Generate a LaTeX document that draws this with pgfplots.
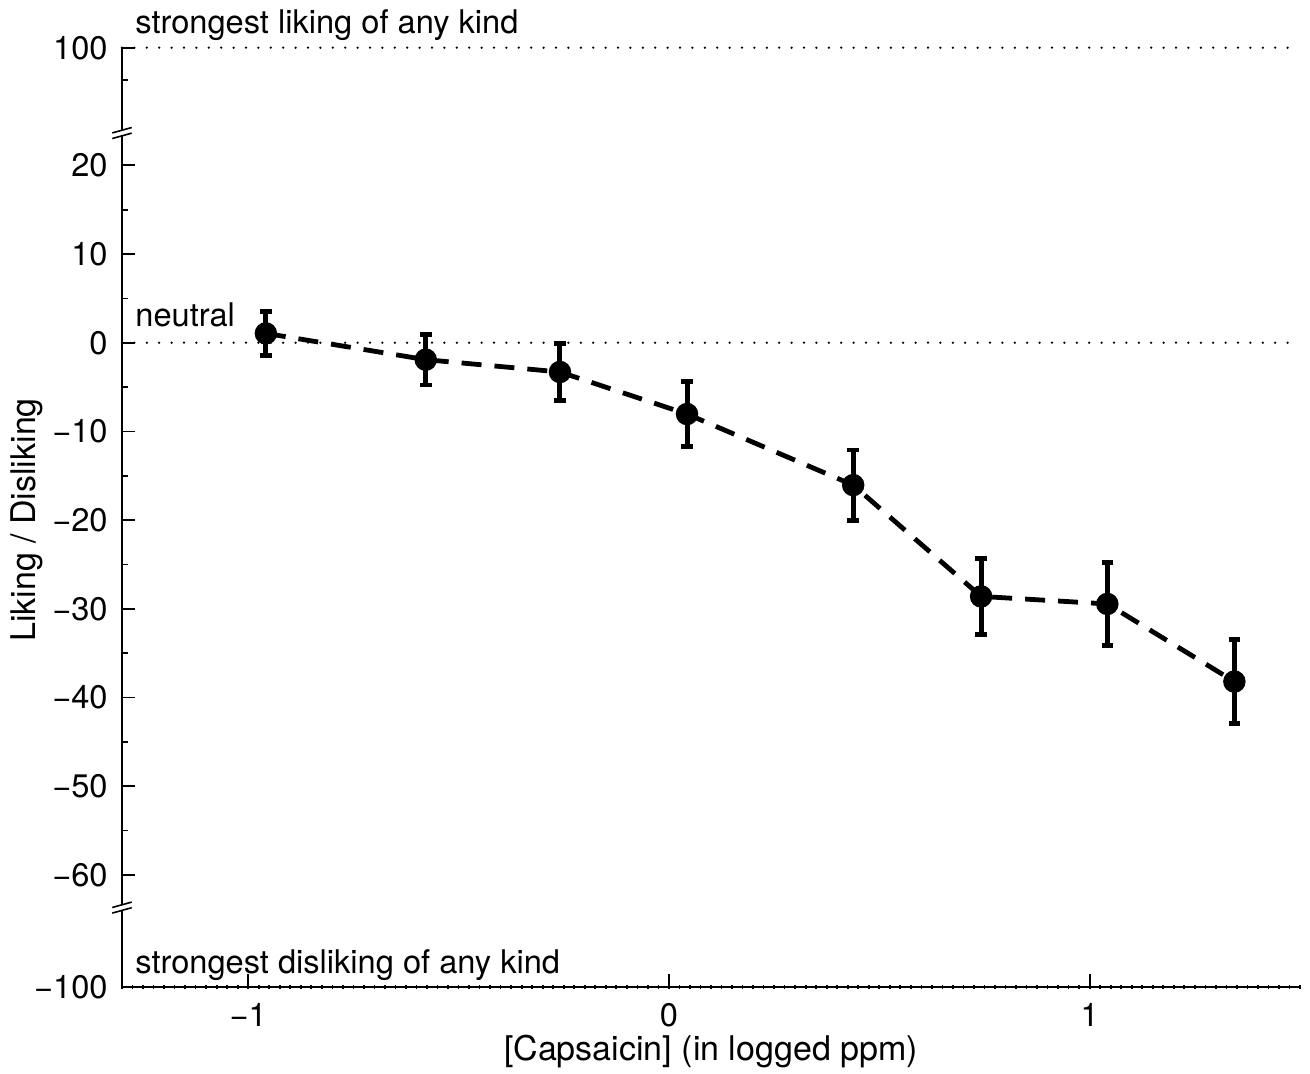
\documentclass[border=0pt]{standalone}
\usepackage{fontspec}
\setmainfont{TeX Gyre Heros}
\usepackage{pgfplots}
\usepackage{pgfplotstable}
\pgfplotsset{compat=1.18}
\pgfplotstableread{
x y e
-0.958 1.05 2.45
-0.578 -1.91 2.86
-0.259 -3.30 3.24
0.043 -8.04 3.70
0.438 -16.05 3.95
0.742 -28.6 4.3
1.042 -29.45 4.67
1.344 -38.2 4.7
}\datatable
\begin{document}
\begin{tikzpicture}
\useasboundingbox (-61pt,-43.15pt) rectangle (594pt,493.35pt);
\begin{axis}[
  at={(0,0)}, anchor=south west,
  scale only axis, width=589pt, height=469.5pt,
  xmin=-1.3, xmax=1.5, ymin=-72.6, ymax=33.26,
  clip=false,
  axis x line=bottom, axis y line=left,
  axis line style={-, line width=0.85pt},
  every tick/.style={black, line width=0.85pt},
  tick align=inside,
  major tick length=6.5pt,
  minor tick length=2pt,
  minor x tick style={yshift=-1pt},
  xtick={-1,0,1}, xticklabels={−1,0,1},
  minor xtick={-1.3,-1.275,...,1.51},
  ytick={-72.6,-60,-50,-40,-30,-20,-10,0,10,20,33.26},
  yticklabels={−100,−60,−50,−40,−30,−20,−10,0,10,20,100},
  extra y ticks={-55,-45,-35,-25,-15,-5,5,15,29.6},
  extra y tick labels={},
  extra y tick style={major tick length=2.8pt},
  ticklabel style={font=\fontsize{16.3}{19}\selectfont, inner sep=0pt},
  yticklabel style={anchor=east, xshift=-7pt},
  xticklabel style={anchor=north, yshift=-8pt},
  xlabel={[Capsaicin] (in logged ppm)},
  ylabel={Liking / Disliking},
  every axis x label/.style={at={(rel axis cs:0.5,0)}, anchor=base, yshift=-36.7pt, font=\fontsize{17}{20}\selectfont, inner sep=0pt},
  every axis y label/.style={at={(rel axis cs:0,0.497)}, anchor=base, xshift=-43pt, rotate=90, font=\fontsize{17}{20}\selectfont, inner sep=0pt},
]
% reference lines
\addplot[black, line width=1.25pt, line cap=round, dash pattern=on 0pt off 6.2pt, forget plot] coordinates {(-1.3,33.26) (1.5,33.26)};
\addplot[black, line width=1.25pt, line cap=round, dash pattern=on 0pt off 6.2pt, forget plot] coordinates {(-1.3,0) (1.5,0)};
% axis breaks
\coordinate (b1) at (axis cs:-1.3,23.64);
\coordinate (b2) at (axis cs:-1.3,-63.68);
\fill[white] ([shift={(-1.2pt,-1.3pt)}]b1) rectangle ([shift={(1.2pt,1.3pt)}]b1);
\fill[white] ([shift={(-1.2pt,-1.3pt)}]b2) rectangle ([shift={(1.2pt,1.3pt)}]b2);
\draw[line width=0.8pt] ([shift={(-4.85pt,-2.75pt)}]b1) -- ([shift={(4.85pt,-0.05pt)}]b1);
\draw[line width=0.8pt] ([shift={(-4.85pt,0.05pt)}]b1) -- ([shift={(4.85pt,2.75pt)}]b1);
\draw[line width=0.8pt] ([shift={(-4.85pt,-2.75pt)}]b2) -- ([shift={(4.85pt,-0.05pt)}]b2);
\draw[line width=0.8pt] ([shift={(-4.85pt,0.05pt)}]b2) -- ([shift={(4.85pt,2.75pt)}]b2);
% data
\addplot[black, line width=2.4pt, dash pattern=on 10pt off 6.5pt, mark=*, mark size=4.4pt, mark options={solid},
  error bars/.cd, y dir=both, y explicit,
  error bar style={line width=2.5pt, solid},
  error mark options={rotate=90, line width=2.4pt, mark size=2.9pt, solid}]
  table[x=x, y=y, y error=e] {\datatable};
% annotations
\node[anchor=base west, inner sep=0pt, xshift=6.5pt, yshift=7.3pt, font=\fontsize{16.3}{19}\selectfont] at (axis cs:-1.3,33.26) {strongest liking of any kind};
\node[anchor=base west, inner sep=0pt, xshift=6.5pt, yshift=8pt, font=\fontsize{16.3}{19}\selectfont] at (axis cs:-1.3,0) {neutral};
\node[anchor=base west, inner sep=0pt, xshift=6.5pt, yshift=6.7pt, font=\fontsize{16.3}{19}\selectfont] at (axis cs:-1.3,-72.6) {strongest disliking of any kind};
\end{axis}
\end{tikzpicture}
\end{document}
